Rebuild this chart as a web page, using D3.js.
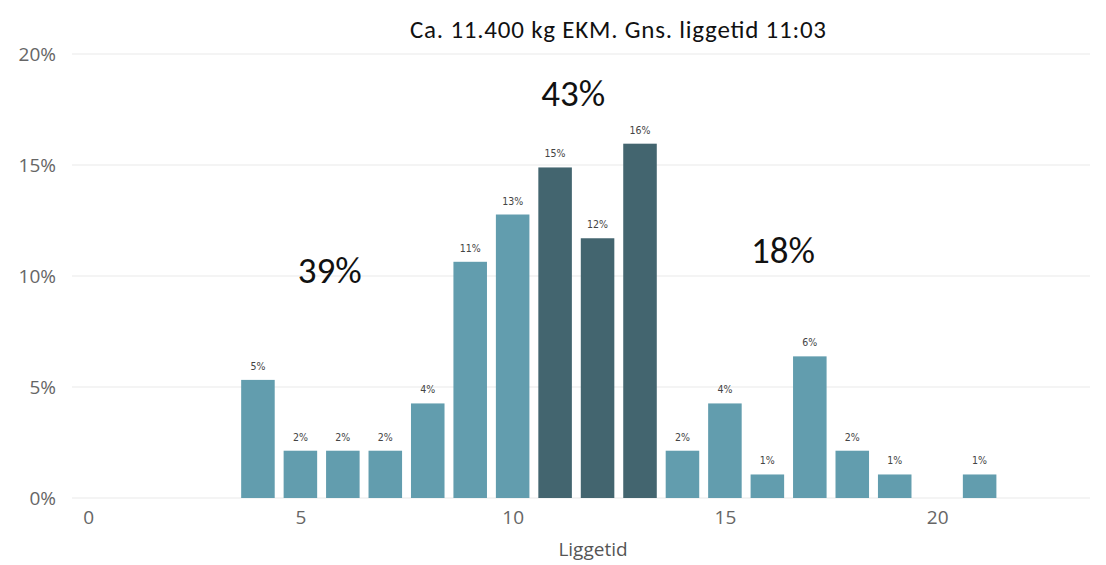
<!DOCTYPE html>
<html><head><meta charset="utf-8">
<script src="https://cdn.jsdelivr.net/npm/d3@7"></script>
<style>
body{margin:0;background:#fff;}
svg{display:block;}
</style></head>
<body>
<svg id="chart" width="1106" height="565"></svg>
<script>
const liggetid = [4,5,6,7,8,9,10,11,12,13,14,15,16,17,18,19,21];
const andel = [0.0532,0.0213,0.0213,0.0213,0.0426,0.1064,0.1277,0.1489,0.1170,0.1596,0.0213,0.0426,0.0106,0.0638,0.0213,0.0106,0.0106];
const highlight = [11,12,13];
const yTicks = [0,0.05,0.10,0.15,0.20];
const xTicks = [0,5,10,15,20];
const title = "Ca. 11.400 kg EKM. Gns. liggetid 11:03";
const xTitle = "Liggetid";
// groups: [from, to] in liggetid; label = summed share
const groups = [[4,10],[11,13],[14,21]];
const groupAnchorX = [5.69, 11.43, 16.37];
const groupAnchorY = [0.0968, 0.1766, 0.1058];

const svg = d3.select("#chart");
const x = d3.scaleLinear().domain([-0.38, 23.6]).range([72, 1090]);
const y = d3.scaleLinear().domain([0, 0.2]).range([498, 54]);
const step = x(1) - x(0);
const bw = step * 0.79;

// gridlines
svg.append("g").selectAll("line").data(yTicks).join("line")
  .attr("x1", x.range()[0]).attr("x2", x.range()[1])
  .attr("y1", d => y(d)).attr("y2", d => y(d))
  .attr("stroke", "#eaeaea").attr("stroke-width", 1.2);

// y axis labels
const yAxis = d3.axisLeft(y).tickValues(yTicks).tickFormat(d3.format(".0%")).tickSize(0).tickPadding(0);
const gy = svg.append("g").attr("transform", `translate(56,0)`).call(yAxis);
gy.select(".domain").remove();
gy.selectAll("text").attr("font-family", "'Segoe UI','Open Sans',sans-serif").attr("font-size", 19).attr("fill", "#666").attr("dy", "0.32em");

// x axis labels
const xAxis = d3.axisBottom(x).tickValues(xTicks).tickFormat(d3.format("d")).tickSize(0).tickPadding(0);
const gx = svg.append("g").attr("transform", `translate(0,${y(0)+12})`).call(xAxis);
gx.select(".domain").remove();
gx.selectAll("text").attr("font-family", "'Segoe UI','Open Sans',sans-serif").attr("font-size", 19).attr("fill", "#666").attr("dy", "0.71em");

// bars
const data = liggetid.map((k, i) => ({k, v: andel[i]}));
svg.append("g").selectAll("rect").data(data).join("rect")
  .attr("x", d => x(d.k) - bw/2).attr("width", bw)
  .attr("y", d => y(d.v)).attr("height", d => y(0) - y(d.v))
  .attr("fill", d => highlight.includes(d.k) ? "#43656f" : "#629dae");

// bar labels
svg.append("g").selectAll("text").data(data).join("text")
  .attr("x", d => x(d.k)).attr("y", d => y(d.v) - 10)
  .attr("text-anchor", "middle")
  .attr("font-family", "'DejaVu Sans Condensed','DejaVu Sans',sans-serif")
  .attr("font-size", 10.5).attr("fill", "#444")
  .text(d => d3.format(".0%")(d.v));

// group annotations
svg.append("g").selectAll("text").data(groups).join("text")
  .attr("x", (g, i) => x(groupAnchorX[i])).attr("y", (g, i) => y(groupAnchorY[i]))
  .attr("text-anchor", "middle")
  .attr("font-family", "Carlito,Calibri,Lato,sans-serif")
  .attr("font-size", 37).attr("fill", "#111")
  .text(g => d3.format(".0%")(d3.sum(data.filter(d => d.k >= g[0] && d.k <= g[1]), d => d.v)));

// title
svg.append("text").attr("x", 618).attr("y", 38).attr("text-anchor", "middle")
  .attr("font-family", "Carlito,Calibri,Lato,sans-serif").attr("font-size", 25).attr("fill", "#111")
  .attr("textLength", 416).attr("lengthAdjust", "spacing")
  .text(title);

// x title
svg.append("text").attr("x", 593).attr("y", 556).attr("text-anchor", "middle")
  .attr("font-family", "'Segoe UI','Open Sans',sans-serif").attr("font-size", 19).attr("fill", "#555")
  .text(xTitle);
</script>
</body></html>
